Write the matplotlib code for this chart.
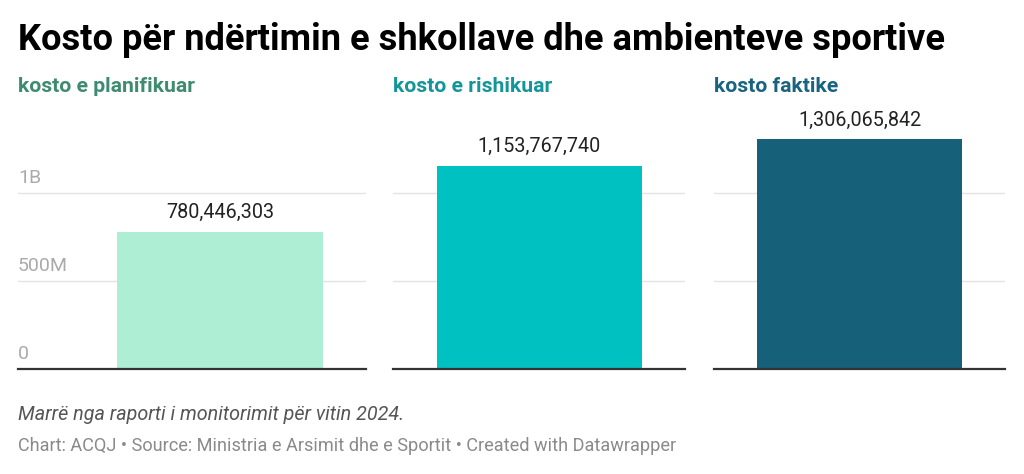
import matplotlib.pyplot as plt

plt.rcParams['font.family'] = ['Roboto', 'DejaVu Sans']

panels = ['kosto e planifikuar', 'kosto e rishikuar', 'kosto faktike']
values = [780446303, 1153767740, 1306065842]
bar_colors = ['#aeeed4', '#00c1c1', '#17607a']
title_colors = ['#3f8b70', '#13959a', '#1a6380']
yticks = [0, 500e6, 1e9]
ytick_labels = ['0', '500M', '1B']

W, H = 1024, 474
fig = plt.figure(figsize=(W / 100, H / 100), dpi=100)

def px(x0, y0, x1, y1):
    # pixel box -> figure fraction rect
    return [x0 / W, 1 - y1 / H, (x1 - x0) / W, (y1 - y0) / H]

# panel boxes: left, right (pixels); bottom at baseline, top at ~105
boxes = [(18, 366), (393, 685), (714, 1005)]
unit = 292.0  # pixels per x unit
for i, (x0, x1) in enumerate(boxes):
    ax = fig.add_axes(px(x0, 105, x1, 369))
    bar_center = 220 if i == 0 else (x0 + x1) / 2
    left = -(bar_center - x0) / unit
    right = (x1 - bar_center) / unit
    ax.bar([0], [values[i]], width=205 / unit, color=bar_colors[i], zorder=2)
    ax.set_xlim(left, right)
    ax.set_ylim(0, 1.5e9)
    ax.set_yticks(yticks)
    ax.yaxis.grid(True, color='#e3e3e3', lw=1, zorder=0)
    ax.set_axisbelow(True)
    ax.tick_params(length=0, labelleft=False, labelbottom=False)
    ax.set_xticks([])
    for s in ('top', 'right', 'left'):
        ax.spines[s].set_visible(False)
    ax.spines['bottom'].set_color('#333333')
    ax.spines['bottom'].set_linewidth(1.6)
    ax.spines['bottom'].set_zorder(3)
    if i == 0:
        for t, lab in zip(yticks, ytick_labels):
            ax.annotate(lab, xy=(0, t), xycoords=('axes fraction', 'data'),
                        xytext=(0, 4), textcoords='offset points',
                        ha='left', va='bottom', fontsize=14, color='#aaaaaa')
    ax.annotate(f'{values[i]:,}', xy=(0, values[i]), xytext=(0, 7),
                textcoords='offset points', ha='center', va='bottom',
                fontsize=14.2, color='#222222')
    fig.text(x0 / W, 1 - 87 / H, panels[i], fontsize=15.2, fontweight='bold',
             color=title_colors[i], ha='left', va='center')

fig.text(18 / W, 1 - 40 / H, 'Kosto për ndërtimin e shkollave dhe ambienteve sportive',
         fontsize=26.1, fontweight='bold', color='#000000', ha='left', va='center')
fig.text(18 / W, 1 - 414 / H, 'Marrë nga raporti i monitorimit për vitin 2024.',
         fontsize=14.2, style='italic', color='#555555', ha='left', va='center')
fig.text(18 / W, 1 - 446 / H,
         'Chart: ACQJ • Source: Ministria e Arsimit dhe e Sportit • Created with Datawrapper',
         fontsize=13.1, color='#8a8a8a', ha='left', va='center')

fig.savefig('out.png', dpi=100)
